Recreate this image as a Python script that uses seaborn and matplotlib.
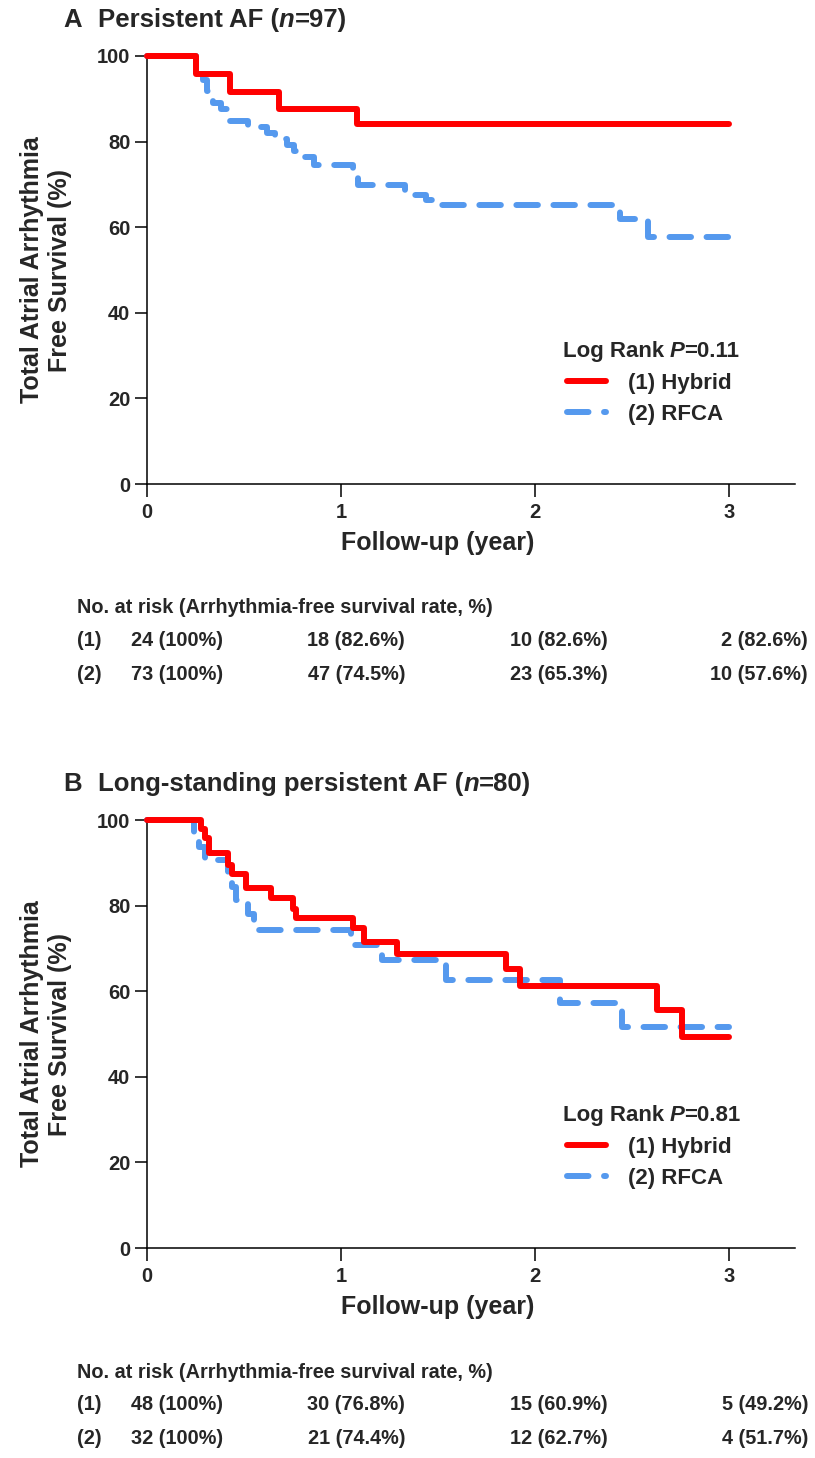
import matplotlib.pyplot as plt
import seaborn as sns
import pandas as pd

# ---- panel A: persistent AF (n=97) ----
a_hyb_t = [0, 0.25, 0.43, 0.68, 1.08, 3.0]
a_hyb_s = [100, 95.8, 91.7, 87.5, 84.1, 84.1]
a_rfca_t = [0, 0.25, 0.29, 0.31, 0.34, 0.38, 0.42, 0.52, 0.62, 0.66, 0.72,
            0.76, 0.81, 0.86, 1.06, 1.09, 1.33, 1.44, 1.48, 2.44, 2.58, 3.0]
a_rfca_s = [100, 97.3, 94.5, 91.8, 89.0, 87.6, 84.9, 83.5, 82.0, 80.6, 79.2,
            77.8, 76.3, 74.5, 72.2, 69.8, 67.6, 66.4, 65.3, 61.8, 57.6, 57.6]
a_title = ["A", "Persistent AF (", "n", "=97)"]
a_pval = "0.11"
a_n_hyb = [24, 18, 10, 2]
a_rate_hyb = ["100", "82.6", "82.6", "82.6"]
a_n_rfca = [73, 47, 23, 10]
a_rate_rfca = ["100", "74.5", "65.3", "57.6"]

# ---- panel B: long-standing persistent AF (n=80) ----
b_hyb_t = [0, 0.28, 0.30, 0.32, 0.42, 0.44, 0.51, 0.64, 0.75, 0.77, 1.06,
           1.12, 1.29, 1.85, 1.92, 2.63, 2.76, 3.0]
b_hyb_s = [100, 97.9, 95.8, 92.3, 89.6, 87.5, 84.1, 81.7, 79.3, 77.0, 74.7,
           71.4, 68.8, 65.1, 61.1, 55.7, 49.4, 49.4]
b_rfca_t = [0, 0.24, 0.27, 0.30, 0.42, 0.44, 0.46, 0.52, 0.55, 1.05, 1.21,
            1.54, 2.13, 2.45, 3.0]
b_rfca_s = [100, 96.9, 93.8, 90.6, 87.5, 84.4, 81.2, 78.1, 74.4, 70.9, 67.2,
            62.7, 57.3, 51.7, 51.7]
b_title = ["B", "Long-standing persistent AF (", "n", "=80)"]
b_pval = "0.81"
b_n_hyb = [48, 30, 15, 5]
b_rate_hyb = ["100", "76.8", "60.9", "49.2"]
b_n_rfca = [32, 21, 12, 4]
b_rate_rfca = ["100", "74.4", "62.7", "51.7"]

groups = ["(1) Hybrid", "(2) RFCA"]
colors = {"(1) Hybrid": "#FF0000", "(2) RFCA": "#5599EE"}
dashes = {"(1) Hybrid": "", "(2) RFCA": (3.6, 2.6)}

sns.set_style("ticks")
plt.rcParams["font.family"] = ["Liberation Sans", "DejaVu Sans"]
plt.rcParams["font.weight"] = "bold"
plt.rcParams["axes.labelweight"] = "bold"

W, H = 815, 1458
fig = plt.figure(figsize=(W / 100, H / 100), dpi=100)

FS_TICK = 14.5
FS_LAB = 18
FS_LEG = 16
FS_TAB = 14.3
FS_TITLE = 18.5


def px(x):
    return x / W


def py(y):
    return 1 - y / H


def panel(top_px, hyb_t, hyb_s, rfca_t, rfca_s, title, pval,
          n_hyb, rate_hyb, n_rfca, rate_rfca):
    ax = fig.add_axes([px(147), py(top_px + 428), px(648), 428 / H])
    df = pd.concat([
        pd.DataFrame({"time": hyb_t, "surv": hyb_s, "group": groups[0]}),
        pd.DataFrame({"time": rfca_t, "surv": rfca_s, "group": groups[1]}),
    ])
    sns.lineplot(data=df, x="time", y="surv", hue="group", style="group",
                 palette=colors, dashes=dashes, estimator=None, sort=False,
                 drawstyle="steps-post", lw=4.3, legend=False, ax=ax,
                 dash_capstyle="round", solid_capstyle="round")
    lines = ax.get_lines()[:2]
    lines[0].set_zorder(4)  # red curve on top, as in the original
    for ln in lines:
        ln.set_clip_on(False)
    ax.set_xlim(0, 3.34)
    ax.set_ylim(0, 100)
    ax.set_xticks([0, 1, 2, 3])
    ax.set_yticks([0, 20, 40, 60, 80, 100])
    sns.despine(ax=ax)
    for s in ["left", "bottom"]:
        ax.spines[s].set_linewidth(1.1)
        ax.spines[s].set_color("black")
    ax.tick_params(axis="both", length=9, width=1.1, color="black",
                   labelsize=FS_TICK)
    ax.tick_params(axis="x", pad=5)
    ax.tick_params(axis="y", pad=3)
    ax.set_xlabel("Follow-up (year)", fontsize=FS_LAB, va="top")
    ax.xaxis.set_label_coords(1.5 / 3.34, -0.11)
    ax.set_ylabel("Total Atrial Arrhythmia\nFree Survival (%)", fontsize=FS_LAB,
                  linespacing=1.2)
    ax.yaxis.set_label_coords(-0.116, 0.5)

    # log-rank text and legend
    t1 = ax.text(0.642, 0.31, "Log Rank", transform=ax.transAxes,
                 fontsize=FS_LEG, va="center")
    t2 = ax.annotate("P", xy=(1, 0), xycoords=t1, xytext=(4, 0),
                     textcoords="offset points", va="bottom", fontsize=FS_LEG,
                     style="italic")
    ax.annotate("=" + pval, xy=(1, 0), xycoords=t2, va="bottom",
                fontsize=FS_LEG)
    ax.legend(handles=lines, labels=groups, loc="upper left",
              bbox_to_anchor=(0.648, 0.26), frameon=False, fontsize=FS_LEG,
              handlelength=1.75, handletextpad=1.0, borderpad=0,
              borderaxespad=0, labelspacing=0.45)

    # panel title
    ty = py(top_px - 36)
    fig.text(px(63), ty, title[0], fontsize=FS_TITLE, va="center")
    p1 = fig.text(px(98), ty, title[1], fontsize=FS_TITLE, va="center")
    p2 = ax.annotate(title[2], xy=(1, 0), xycoords=p1, va="bottom",
                     fontsize=FS_TITLE, style="italic")
    ax.annotate(title[3], xy=(1, 0), xycoords=p2, va="bottom",
                fontsize=FS_TITLE)

    # number at risk table
    base = top_px + 428
    fig.text(px(77), py(base + 124),
             "No. at risk (Arrhythmia-free survival rate, %)",
             fontsize=FS_TAB, va="center")
    col_right = [223, 405, 608, 808]
    for row, (lab, ns, rates) in enumerate([("(1)", n_hyb, rate_hyb),
                                             ("(2)", n_rfca, rate_rfca)]):
        yy = py(base + 157 + row * 33)
        fig.text(px(77), yy, lab, fontsize=FS_TAB, va="center")
        for xr, n, r in zip(col_right, ns, rates):
            fig.text(px(xr), yy, f"{n} ({r}%)", fontsize=FS_TAB, va="center",
                     ha="right")
    return ax


panel(56, a_hyb_t, a_hyb_s, a_rfca_t, a_rfca_s, a_title, a_pval,
      a_n_hyb, a_rate_hyb, a_n_rfca, a_rate_rfca)
panel(820, b_hyb_t, b_hyb_s, b_rfca_t, b_rfca_s, b_title, b_pval,
      b_n_hyb, b_rate_hyb, b_n_rfca, b_rate_rfca)

fig.savefig("out.png", dpi=100)
